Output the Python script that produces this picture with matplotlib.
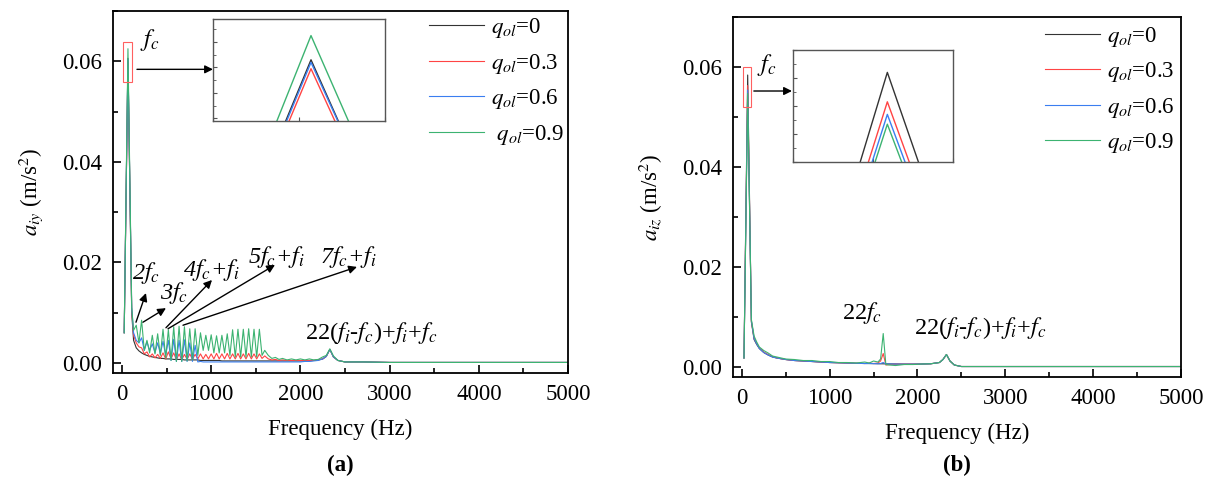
import matplotlib
matplotlib.use("Agg")
import matplotlib.pyplot as plt
from matplotlib.patches import Rectangle
from matplotlib.ticker import MultipleLocator, FormatStrFormatter

plt.rcParams['font.family'] = ['Liberation Serif', 'DejaVu Serif']
plt.rcParams['mathtext.fontset'] = 'stix'

# ---------------- data: panel (a) ----------------
freq_a = [25, 67, 109, 130, 160, 190, 220, 250, 280, 310, 340, 370, 400, 430, 460, 490,
          520, 550, 580, 610, 640, 670, 700, 730, 760, 790, 820, 850, 880, 910, 940, 970,
          1000, 1030, 1060, 1090, 1120, 1150, 1180, 1210, 1240, 1270, 1300, 1330, 1360,
          1390, 1420, 1450, 1480, 1510, 1540, 1570, 1600, 1640, 1680, 1720, 1760, 1800,
          1850, 1900, 1950, 2000, 2050, 2100, 2150, 2200, 2250, 2290, 2330, 2370, 2420,
          2500, 2700, 3000, 3500, 4000, 4500, 5000]

a_q00 = [0.0060, 0.0606, 0.0100, 0.0045, 0.0030, 0.0024, 0.0020, 0.0017, 0.0015, 0.0013,
         0.0012, 0.0011, 0.0010, 0.0009, 0.0009, 0.0008, 0.0008, 0.0008, 0.0007, 0.0007,
         0.0007, 0.0007, 0.0006, 0.0006, 0.0006, 0.0006, 0.0006, 0.0006, 0.0005, 0.0005,
         0.0005, 0.0005, 0.0005, 0.0005, 0.0005, 0.0005, 0.0004, 0.0004, 0.0004, 0.0004,
         0.0004, 0.0004, 0.0004, 0.0004, 0.0004, 0.0004, 0.0004, 0.0004, 0.0004, 0.0004,
         0.0004, 0.0004, 0.0004, 0.0004, 0.0004, 0.0004, 0.0004, 0.0004, 0.0004, 0.0004,
         0.0004, 0.0004, 0.0004, 0.0004, 0.0005, 0.0006, 0.0008, 0.0013, 0.0027, 0.0012,
         0.0005, 0.0002, 0.0002, 0.0001, 0.0001, 0.0001, 0.0001, 0.0001]

a_q03 = [0.0060, 0.0599, 0.0105, 0.0055, 0.0040, 0.0032, 0.0030, 0.0018, 0.0022, 0.0012,
         0.0018, 0.0010, 0.0017, 0.0009, 0.0020, 0.0008, 0.0022, 0.0008, 0.0020, 0.0006,
         0.0018, 0.0006, 0.0017, 0.0007, 0.0018, 0.0007, 0.0017, 0.0008, 0.0018, 0.0008,
         0.0017, 0.0008, 0.0018, 0.0008, 0.0019, 0.0008, 0.0018, 0.0008, 0.0019, 0.0008,
         0.0018, 0.0008, 0.0019, 0.0008, 0.0018, 0.0008, 0.0019, 0.0008, 0.0018, 0.0008,
         0.0018, 0.0009, 0.0014, 0.0008, 0.0006, 0.0007, 0.0005, 0.0006, 0.0005, 0.0005,
         0.0005, 0.0005, 0.0005, 0.0005, 0.0005, 0.0006, 0.0008, 0.0013, 0.0027, 0.0012,
         0.0005, 0.0002, 0.0002, 0.0001, 0.0001, 0.0001, 0.0001, 0.0001]

a_q06 = [0.0060, 0.0604, 0.0110, 0.0060, 0.0045, 0.0040, 0.0050, 0.0025, 0.0042, 0.0025,
         0.0038, 0.0020, 0.0040, 0.0018, 0.0043, 0.0015, 0.0045, 0.0005, 0.0047, 0.0003,
         0.0045, 0.0003, 0.0046, 0.0003, 0.0040, 0.0003, 0.0035, 0.0002, 0.0003, 0.0002,
         0.0002, 0.0002, 0.0002, 0.0002, 0.0002, 0.0002, 0.0002, 0.0002, 0.0002, 0.0002,
         0.0002, 0.0002, 0.0002, 0.0002, 0.0002, 0.0002, 0.0002, 0.0002, 0.0002, 0.0002,
         0.0002, 0.0002, 0.0002, 0.0002, 0.0002, 0.0002, 0.0002, 0.0002, 0.0002, 0.0002,
         0.0002, 0.0002, 0.0003, 0.0003, 0.0004, 0.0005, 0.0008, 0.0013, 0.0027, 0.0012,
         0.0005, 0.0002, 0.0002, 0.0001, 0.0001, 0.0001, 0.0001, 0.0001]

a_q09 = [0.0060, 0.0625, 0.0110, 0.0065, 0.0075, 0.0040, 0.0085, 0.0025, 0.0045, 0.0020,
         0.0055, 0.0018, 0.0058, 0.0015, 0.0067, 0.0010, 0.0066, 0.0005, 0.0072, 0.0003,
         0.0073, 0.0003, 0.0072, 0.0004, 0.0068, 0.0006, 0.0068, 0.0015, 0.0060, 0.0025,
         0.0055, 0.0025, 0.0056, 0.0020, 0.0054, 0.0020, 0.0055, 0.0020, 0.0058, 0.0015,
         0.0066, 0.0012, 0.0067, 0.0012, 0.0067, 0.0012, 0.0068, 0.0012, 0.0067, 0.0012,
         0.0067, 0.0015, 0.0025, 0.0015, 0.0009, 0.0011, 0.0007, 0.0009, 0.0006, 0.0008,
         0.0006, 0.0008, 0.0006, 0.0008, 0.0006, 0.0007, 0.0012, 0.0015, 0.0028, 0.0014,
         0.0005, 0.0002, 0.0002, 0.0001, 0.0001, 0.0001, 0.0001, 0.0001]

# ---------------- data: panel (b) ----------------
freq_b = [25, 67, 109, 140, 170, 200, 250, 300, 350, 400, 500, 600, 700, 800, 900, 1000,
          1100, 1200, 1300, 1400, 1450, 1500, 1550, 1580, 1610, 1640, 1680, 1750, 1850,
          1950, 2050, 2150, 2250, 2290, 2330, 2370, 2420, 2500, 2700, 3000, 3500, 4000,
          4500, 5000]

b_q00 = [0.0018, 0.0584, 0.0090, 0.0055, 0.0045, 0.0037, 0.0029, 0.0024, 0.0020, 0.0018,
         0.0015, 0.0013, 0.0012, 0.0011, 0.0010, 0.0009, 0.00085, 0.0008, 0.00075, 0.0007,
         0.0007, 0.00068, 0.00066, 0.00065, 0.00064, 0.00063, 0.00062, 0.0006, 0.00058,
         0.00058, 0.0006, 0.00065, 0.0009, 0.0015, 0.0025, 0.0012, 0.0004, 0.0001, 0.0001,
         0.0001, 0.0001, 0.0001, 0.0001, 0.0001]

b_q03 = [0.0018, 0.0563, 0.0092, 0.0058, 0.0047, 0.0038, 0.0030, 0.0025, 0.0021, 0.0018,
         0.0015, 0.0013, 0.0012, 0.0011, 0.0010, 0.0009, 0.00085, 0.0008, 0.00075, 0.0007,
         0.0008, 0.0007, 0.0008, 0.0012, 0.0027, 0.0004, 0.0005, 0.0006, 0.00058,
         0.00058, 0.0006, 0.00065, 0.0009, 0.0015, 0.0025, 0.0012, 0.0004, 0.0001, 0.0001,
         0.0001, 0.0001, 0.0001, 0.0001, 0.0001]

b_q06 = [0.0018, 0.0554, 0.0093, 0.0057, 0.0046, 0.0037, 0.0029, 0.0024, 0.0020, 0.0018,
         0.0015, 0.0013, 0.0012, 0.0011, 0.0010, 0.0009, 0.00085, 0.0008, 0.00075, 0.0007,
         0.0007, 0.00068, 0.00066, 0.0007, 0.0009, 0.0006, 0.00062, 0.0006, 0.00058,
         0.00058, 0.0006, 0.00065, 0.0009, 0.0015, 0.0025, 0.0012, 0.0004, 0.0001, 0.0001,
         0.0001, 0.0001, 0.0001, 0.0001, 0.0001]

b_q09 = [0.0018, 0.0547, 0.0095, 0.0062, 0.0050, 0.0040, 0.0033, 0.0028, 0.0022, 0.0020,
         0.0016, 0.0015, 0.0013, 0.0013, 0.0011, 0.0011, 0.0009, 0.0009, 0.0008, 0.0010,
         0.0008, 0.0012, 0.0010, 0.0016, 0.0067, 0.0005, 0.0004, 0.0003, 0.0005,
         0.0005, 0.0006, 0.00065, 0.0009, 0.0015, 0.0025, 0.0012, 0.0004, 0.0001, 0.0001,
         0.0001, 0.0001, 0.0001, 0.0001, 0.0001]

labels_a = ['$q_{ol}$=0', '$q_{ol}$=0.3', '$q_{ol}$=0.6', ' $q_{ol}$=0.9']
labels_b = ['$q_{ol}$=0', '$q_{ol}$=0.3', '$q_{ol}$=0.6', '$q_{ol}$=0.9']
colors = ['#333333', '#ff4444', '#3a7ef0', '#3cb371']

series_a = [a_q00, a_q03, a_q06, a_q09]
series_b = [b_q00, b_q03, b_q06, b_q09]

FS = 16.5

fig = plt.figure(figsize=(12.13, 4.79), dpi=100)
axa = fig.add_axes([0.0932, 0.2213, 0.3751, 0.7557])
axb = fig.add_axes([0.6043, 0.2129, 0.3693, 0.7516])


def style_main(ax, ylabel):
    ax.set_xlim(-100, 5000)
    ax.set_ylim(-0.002, 0.07)
    ax.xaxis.set_major_locator(MultipleLocator(1000))
    ax.xaxis.set_minor_locator(MultipleLocator(500))
    ax.yaxis.set_major_locator(MultipleLocator(0.02))
    ax.yaxis.set_minor_locator(MultipleLocator(0.01))
    ax.yaxis.set_major_formatter(FormatStrFormatter('%.2f'))
    ax.tick_params(which='both', direction='in', top=False, right=False,
                   labelsize=FS, width=1.2)
    ax.tick_params(which='major', length=6, pad=8)
    ax.tick_params(which='minor', length=3.5)
    for s in ax.spines.values():
        s.set_linewidth(1.3)
    ax.set_xlabel('Frequency (Hz)', fontsize=FS, labelpad=10)
    ax.set_ylabel(ylabel, fontsize=FS, labelpad=12)


for ax, fr, ser, labs in [(axa, freq_a, series_a, labels_a), (axb, freq_b, series_b, labels_b)]:
    for y, c, l in zip(ser, colors, labs):
        ax.plot(fr, y, color=c, lw=0.8, label=l)

style_main(axa, '$a_{iy}$ (m/s$^2$)')
style_main(axb, '$a_{iz}$ (m/s$^2$)')

for ax, anch in [(axa, (0.695, 0.985)), (axb, (0.696, 0.978))]:
    ax.legend(loc='upper left', bbox_to_anchor=anch, frameon=False,
              fontsize=FS, handlelength=2.4, handletextpad=0.3,
              labelspacing=0.5, borderpad=0, borderaxespad=0)

# ---- red rectangles and arrows to insets ----
axa.add_patch(Rectangle((10, 0.0558), 105, 0.0080, fill=False, ec='#ff6060', lw=0.8, zorder=5))
axb.add_patch(Rectangle((11, 0.0520), 92, 0.0080, fill=False, ec='#ff6060', lw=0.8, zorder=5))

arrow = dict(arrowstyle='-|>', color='black', lw=1.0, mutation_scale=12, shrinkA=0, shrinkB=0)
axa.annotate('', xy=(1020, 0.0584), xytext=(168, 0.0584), arrowprops=arrow)
axb.annotate('', xy=(571, 0.0552), xytext=(137, 0.0552), arrowprops=arrow)

TS = 17.5
axa.text(202, 0.0642, '$f_c$', fontsize=TS, va='center', ha='left')
axb.text(171, 0.0604, '$f_c$', fontsize=TS, va='center', ha='left')

ann_a = [
    ('2$f_c$', (112, 0.0179), (157, 0.0081), (269, 0.0139)),
    ('3$f_c$', (426, 0.0139), (235, 0.0081), (493, 0.0109)),
    ('4$f_c$+$f_i$', (684, 0.0185), (493, 0.0070), (1009, 0.0165)),
    ('5$f_c$+$f_i$', (1413, 0.0211), (516, 0.0068), (1715, 0.0195)),
    ('7$f_c$+$f_i$', (2220, 0.0211), (684, 0.0075), (2634, 0.0191)),
]
for txt, tpos, a0, a1 in ann_a:
    axa.text(tpos[0], tpos[1], txt, fontsize=TS, va='center', ha='left', style='italic')
    axa.annotate('', xy=a1, xytext=a0, arrowprops=arrow)

axa.text(2052, 0.0060, '22($f_i$-$f_c$)+$f_i$+$f_c$', fontsize=TS, va='center', ha='left')
axb.text(1142, 0.0108, '22$f_c$', fontsize=TS, va='center', ha='left')
axb.text(1963, 0.0078, '22($f_i$-$f_c$)+$f_i$+$f_c$', fontsize=TS, va='center', ha='left')

# ---- insets ----
ina = fig.add_axes([0.1756, 0.7474, 0.1418, 0.2129])
inb = fig.add_axes([0.6538, 0.6618, 0.1319, 0.2338])
for ax, fr, ser, xl, yl in [(ina, freq_a, series_a, (52.7, 77.8), (0.0558, 0.0638)),
                            (inb, freq_b, series_b, (50.5, 78.5), (0.0520, 0.0600))]:
    for y, c in zip(ser, colors):
        ax.plot(fr, y, color=c, lw=1.0)
    ax.set_xlim(*xl)
    ax.set_ylim(*yl)
    ax.set_xticks([xl[0], (xl[0] + xl[1]) / 2, xl[1]])
    ax.yaxis.set_major_locator(MultipleLocator(0.002))
    ax.yaxis.set_minor_locator(MultipleLocator(0.001))
    ax.tick_params(which='both', direction='in', labelbottom=False, labelleft=False,
                   top=False, right=False, color='#555555')
    ax.tick_params(which='major', length=3)
    ax.tick_params(which='minor', length=2)
    for s in ax.spines.values():
        s.set_color('#555555')
        s.set_linewidth(1.0)

fig.text(340 / 1213, 1 - 465 / 479, '(a)', fontsize=16.5, fontweight='bold', ha='center', va='center')
fig.text(957 / 1213, 1 - 465 / 479, '(b)', fontsize=16.5, fontweight='bold', ha='center', va='center')

fig.savefig('out.png', dpi=100)
